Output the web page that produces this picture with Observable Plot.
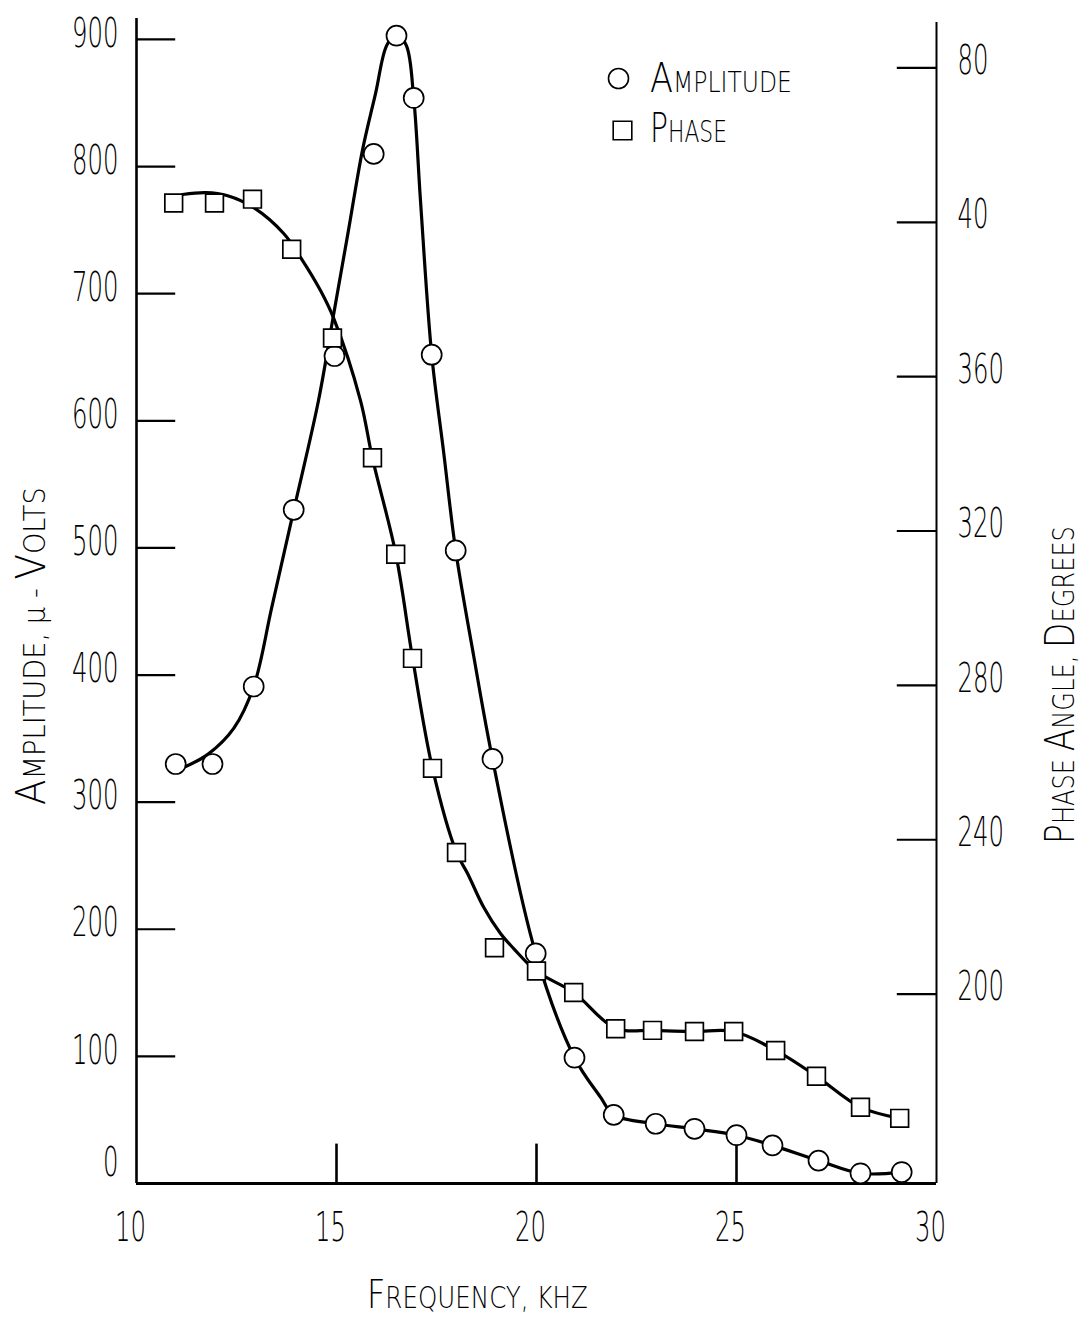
<!DOCTYPE html>
<html>
<head>
<meta charset="utf-8">
<script src="https://cdn.jsdelivr.net/npm/d3@7"></script>
<script src="https://cdn.jsdelivr.net/npm/@observablehq/plot@0.6"></script>
<style>
  body { margin: 0; background: #fff; }
  #chart svg text { white-space: pre; }
</style>
</head>
<body>
<div id="chart"></div>
<script>
// ---- Measured amplitude points (kHz, volts) ----
const ampFreq   = [10.98, 11.9, 12.93, 13.93, 14.95, 15.93, 16.5, 16.93, 17.38, 17.98, 18.9, 19.98, 20.95, 21.93, 22.98, 23.95, 25.0, 25.9, 27.05, 28.1, 29.13];
const amplitude = [330, 330, 391, 530, 651, 810, 903, 854, 652, 498, 334, 181, 99, 54, 47, 43, 38, 30, 18, 8, 9];

// ---- Measured phase points (kHz, degrees, unwrapped: 405 = 45 deg) ----
const phaseFreq = [10.93, 11.95, 12.9, 13.88, 14.9, 15.9, 16.48, 16.9, 17.4, 18.0, 18.95, 20.0, 20.93, 21.98, 22.9, 23.95, 24.93, 25.98, 27.0, 28.1, 29.08];
const phase     = [405, 405, 406, 393, 370, 339, 314, 287, 258.5, 236.7, 212, 206, 200.4, 191, 190.6, 190.3, 190.3, 185.4, 178.7, 170.7, 167.8];

// ---- Hand-faired curves ----
const ampCurveFreq = [11.23, 11.8, 12.43, 12.93, 13.38, 13.93, 14.55, 14.93, 15.3, 15.65, 15.98, 16.25, 16.5, 16.75, 16.93, 17.1, 17.38, 17.68, 17.98, 18.43, 18.9, 19.98, 20.95, 21.6, 21.93, 22.98, 23.95, 25.0, 25.9, 27.05, 28.1, 29.13];
const ampCurve     = [328, 338, 358, 391, 453, 529.5, 616, 684, 750, 813, 858, 895, 905, 895, 854, 773, 652, 575, 498, 415, 334, 181, 99, 68, 54, 47, 43, 38, 30, 18, 8, 9];

const phaseCurveFreq = [11.15, 11.73, 12.28, 12.93, 13.68, 14.1, 14.6, 14.93, 15.6, 15.9, 16.48, 16.9, 17.4, 18.0, 18.28, 18.68, 19.1, 19.43, 20.0, 20.93, 21.98, 22.9, 23.95, 24.93, 25.98, 27.0, 28.1, 29.08];
const phaseCurve     = [407.2, 407.7, 406.9, 403.8, 397.1, 390.9, 382.3, 375.1, 353.8, 338.8, 314.2, 287.2, 258.5, 236.7, 231.2, 222.5, 215.7, 211.8, 205.9, 200.4, 191.1, 190.6, 190.3, 190.3, 185.4, 178.7, 170.7, 167.8];

// ---- Ticks ----
const freqTicks  = [10, 15, 20, 25, 30];
const ampTicks   = [0, 100, 200, 300, 400, 500, 600, 700, 800, 900];
const phaseTicks = [200, 240, 280, 320, 360, 400, 440];

// Right-hand phase axis calibrated onto the amplitude axis
const phaseToAmp = d3.scaleLinear().domain([200, 440]).range([149.0, 877.6]);
const phaseLabel = v => { const p = Math.round(phaseToAmp.invert(v)); return String(p > 360 ? p - 360 : p); };

const ampPts   = ampFreq.map((f, i) => ({f, v: amplitude[i]}));
const phasePts = phaseFreq.map((f, i) => ({f, v: phaseToAmp(phase[i])}));
const ampLine  = ampCurveFreq.map((f, i) => ({f, v: ampCurve[i]}));
const phaseLine = phaseCurveFreq.map((f, i) => ({f, v: phaseToAmp(phaseCurve[i])}));

const tickLenF = 0.98;  // kHz
const tickLenA = 31;    // volts

const chart = Plot.plot({
  width: 1085,
  height: 1331,
  marginLeft: 136,
  marginRight: 149,
  marginTop: 18,
  marginBottom: 148,
  x: {domain: [10, 30]},
  y: {domain: [0, 916.5]},
  style: {fontFamily: "DejaVu Sans", fontSize: "41px", fontWeight: 200, background: "white", color: "black"},
  marks: [
    // frame lines
    Plot.ruleX([10], {y1: 0, y2: 916.5, stroke: "black", strokeWidth: 2.6}),
    Plot.ruleX([30], {y1: 0, y2: 913.4, stroke: "black", strokeWidth: 2}),
    Plot.ruleY([0], {x1: 10, x2: 30, stroke: "black", strokeWidth: 2.8}),
    // inward ticks
    Plot.ruleY(ampTicks.slice(1), {y: d => d, x1: 10, x2: 10 + tickLenF, stroke: "black", strokeWidth: 2.2}),
    Plot.ruleY(phaseTicks, {y: d => phaseToAmp(d), x1: 30 - tickLenF, x2: 30, stroke: "black", strokeWidth: 2.2}),
    Plot.ruleX(freqTicks.slice(1, 4), {x: d => d, y1: 0, y2: tickLenA, stroke: "black", strokeWidth: 2.6}),
    // tick labels
    Plot.axisY(ampTicks, {anchor: "left", tickSize: 0, tickPadding: 18, dy: -6, label: null, fontSize: 41}),
    Plot.axisY(phaseTicks.map(p => phaseToAmp(p)), {anchor: "right", tickSize: 0, tickPadding: 21, dy: -7, label: null, fontSize: 41, tickFormat: phaseLabel}),
    Plot.axisX(freqTicks, {anchor: "bottom", tickSize: 0, tickPadding: 28, dx: -6, label: null, fontSize: 41}),
    // curves
    Plot.line(ampLine, {x: "f", y: "v", curve: "catmull-rom", stroke: "black", strokeWidth: 3.2}),
    Plot.line(phaseLine, {x: "f", y: "v", curve: "catmull-rom", stroke: "black", strokeWidth: 3.2}),
    // markers
    Plot.dot(ampPts, {x: "f", y: "v", r: 10, symbol: "circle", fill: "white", stroke: "black", strokeWidth: 1.7}),
    Plot.dot(phasePts, {x: "f", y: "v", r: 10, symbol: "square", fill: "white", stroke: "black", strokeWidth: 1.7}),
    // legend symbols
    Plot.dot([0], {frameAnchor: "top-left", dx: 482, dy: 60, r: 10, symbol: "circle", fill: "white", stroke: "black", strokeWidth: 1.6}),
    Plot.dot([0], {frameAnchor: "top-left", dx: 486, dy: 112, r: 10.5, symbol: "square", fill: "white", stroke: "black", strokeWidth: 1.6})
  ]
});

document.getElementById("chart").appendChild(chart);
const svg = d3.select(chart);

// narrow lettering for tick numerals
svg.selectAll('g[aria-label$="tick label"] text').each(function() {
  const s = this.textContent;
  this.setAttribute("textLength", 15.5 * s.length);
  this.setAttribute("lengthAdjust", "spacingAndGlyphs");
  const g = this.parentNode.getAttribute("aria-label");
  if (s === "0" && g && g.startsWith("y")) {
    this.setAttribute("transform", (this.getAttribute("transform") || "") + " translate(0,-15)");
  }
});

// small-caps titles built from tspans, horizontally scaled to the reference's span
function smallCaps(str, big, small, x, y, rotate, targetLen) {
  const t = svg.append("text")
    .attr("fill", "black")
    .attr("font-family", "DejaVu Sans")
    .attr("font-weight", 200)
    .attr("text-anchor", "start");
  const runs = [];
  str.split(/(\s+)/).forEach(w => {
    if (/^\s+$/.test(w)) { runs.push({s: small, t: w}); return; }
    [...w].forEach((ch, i) => {
      const size = (i === 0 && /[A-Z]/.test(ch)) ? big : small;
      const out = /[a-z]/.test(ch) ? ch.toUpperCase() : ch;
      const last = runs[runs.length - 1];
      if (last && last.s === size) last.t += out; else runs.push({s: size, t: out});
    });
  });
  runs.forEach(r => t.append("tspan").attr("font-size", r.s).text(r.t));
  const natural = t.node().getComputedTextLength() || targetLen;
  const sx = targetLen / natural;
  t.attr("transform", `translate(${x},${y})` + (rotate ? ` rotate(${rotate})` : "") + ` scale(${sx},1)`);
  return t;
}

smallCaps("Amplitude, µ - Volts", 41, 30, 45, 805, -90, 318);
smallCaps("Phase Angle, Degrees", 41, 30, 1074, 844, -90, 318);
smallCaps("Frequency, kHz", 39, 30, 367, 1308, 0, 221);
smallCaps("Amplitude", 40, 28, 650, 92, 0, 142);
smallCaps("Phase", 41, 30, 650, 142, 0, 77);
</script>
</body>
</html>
